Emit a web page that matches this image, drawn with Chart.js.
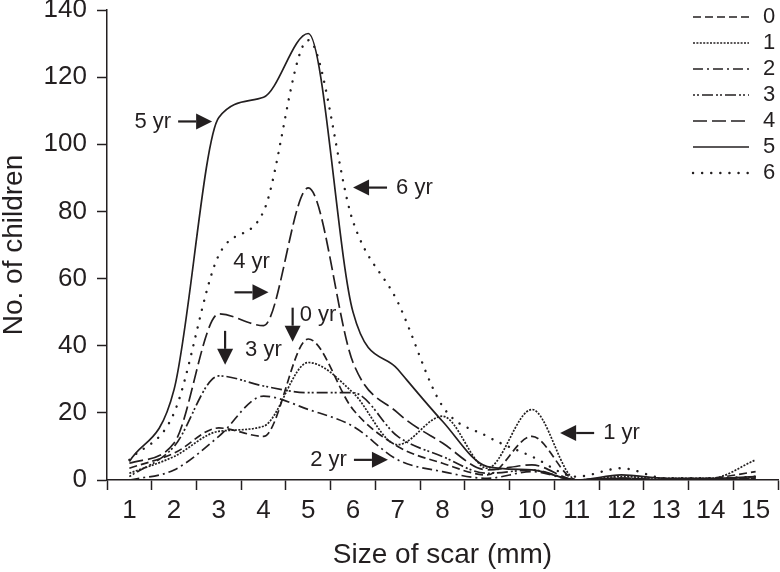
<!DOCTYPE html>
<html>
<head>
<meta charset="utf-8">
<title>Size of scar by age</title>
<script src="https://cdn.jsdelivr.net/npm/chart.js@4.4.1/dist/chart.umd.min.js"></script>
<style>
  body { margin: 0; background: #fff; }
  canvas { display: block; }
</style>
</head>
<body>
<canvas id="scarChart" width="780" height="572"></canvas>
<script>
// scar size in mm (x axis categories)
var sizes = ['1', '2', '3', '4', '5', '6', '7', '8', '9', '10', '11', '12', '13', '14', '15'];

// number of children per scar size, one list per age group
var yr0 = [3.5, 8, 15.5, 13, 42, 21, 10, 5, 1.5, 13, 0, 0.5, 0, 0.5, 2.5];
var yr1 = [2, 7, 14.5, 16, 35, 26, 10.5, 19, 3.5, 21, 0, 1, 0.5, 0.5, 6];
var yr2 = [0, 3, 13, 25, 21, 16, 6, 2.5, 0.5, 2.5, 0, 0.5, 0, 0, 0.5];
var yr3 = [1, 10, 31, 28, 26, 26, 13, 7, 2, 3, 0, 0.5, 0, 0, 1];
var yr4 = [5, 11, 49.5, 46, 87, 35, 20, 11, 3, 4.5, 0, 0.5, 0, 0, 0.5];
var yr5 = [5.5, 27, 108, 114, 133, 50, 33, 17.5, 4, 3, 0, 1.5, 0.5, 0.5, 1];
var yr6 = [6, 20, 67, 80, 131, 77, 53, 22, 13, 7, 1, 3.5, 0.5, 0.5, 1];

var yMax = 140;
var yStep = 20;

// arrow notes, anchored at (scar size, children)
var notes = [
  { text: '5 yr', x: 2.85, y: 106.8, dir: 'right' },
  { text: '6 yr', x: 6.0, y: 87.1, dir: 'left' },
  { text: '4 yr', x: 4.11, y: 55.9, dir: 'right' },
  { text: '0 yr', x: 4.65, y: 41.2, dir: 'down' },
  { text: '3 yr', x: 3.14, y: 34.3, dir: 'down' },
  { text: '2 yr', x: 6.78, y: 6, dir: 'right' },
  { text: '1 yr', x: 10.63, y: 14, dir: 'left' }
];

var ink = '#231f20';
var fontFamily = '"Liberation Sans", Arial, Helvetica, sans-serif';
Chart.defaults.font.family = fontFamily;
Chart.defaults.color = ink;

function series(label, values, dash, width, cap) {
  return {
    label: label,
    data: values,
    borderColor: ink,
    borderWidth: width || 1.7,
    borderDash: dash,
    borderCapStyle: cap || 'butt',
    pointRadius: 0,
    fill: false,
    cubicInterpolationMode: 'monotone'
  };
}

// legend drawn in the top right corner, over the plot
var legendPlugin = {
  id: 'cornerLegend',
  afterDraw: function(chart) {
    var ctx = chart.ctx;
    ctx.save();
    chart.data.datasets.forEach(function(ds, i) {
      var y = 17 + i * 26;
      ctx.strokeStyle = ink;
      ctx.lineWidth = ds.borderWidth;
      ctx.lineCap = ds.borderCapStyle;
      ctx.setLineDash(ds.borderDash || []);
      ctx.beginPath();
      ctx.moveTo(693, y);
      ctx.lineTo(749, y);
      ctx.stroke();
      ctx.setLineDash([]);
      ctx.fillStyle = ink;
      ctx.font = '22px ' + fontFamily;
      ctx.textAlign = 'left';
      ctx.textBaseline = 'middle';
      ctx.fillText(ds.label, 763, y);
    });
    ctx.restore();
  }
};

var notesPlugin = {
  id: 'arrowNotes',
  afterDatasetsDraw: function(chart) {
    var ctx = chart.ctx;
    var xs = chart.scales.x, ys = chart.scales.y;
    ctx.save();
    ctx.fillStyle = ink;
    ctx.strokeStyle = ink;
    ctx.lineWidth = 2.2;
    ctx.font = '22px ' + fontFamily;
    ctx.textBaseline = 'middle';
    notes.forEach(function(n) {
      var tx = xs.getPixelForValue(n.x - 1);
      var ty = ys.getPixelForValue(n.y);
      var ux = n.dir === 'right' ? 1 : (n.dir === 'left' ? -1 : 0);
      var uy = n.dir === 'down' ? 1 : 0;
      var len = 34, head = 16, half = 8;
      var bx = tx - ux * head, by = ty - uy * head;
      ctx.beginPath();
      ctx.moveTo(tx - ux * len, ty - uy * len);
      ctx.lineTo(bx, by);
      ctx.stroke();
      ctx.beginPath();
      ctx.moveTo(tx, ty);
      ctx.lineTo(bx - uy * half, by + ux * half);
      ctx.lineTo(bx + uy * half, by - ux * half);
      ctx.closePath();
      ctx.fill();
      if (n.text === '4 yr') {
        ctx.textAlign = 'center';
        ctx.fillText(n.text, tx - 17, ty - 30);
      } else if (n.dir === 'right') {
        ctx.textAlign = 'right';
        ctx.fillText(n.text, tx - len - 7, ty);
      } else if (n.dir === 'left') {
        ctx.textAlign = 'left';
        ctx.fillText(n.text, tx + len + 9, ty);
      } else if (n.text === '0 yr') {
        ctx.textAlign = 'left';
        ctx.fillText(n.text, tx + 7, ty - 27);
      } else {
        ctx.textAlign = 'left';
        ctx.fillText(n.text, tx + 20, ty - 15);
      }
    });
    ctx.restore();
  }
};

new Chart(document.getElementById('scarChart'), {
  type: 'line',
  data: {
    labels: sizes,
    datasets: [
      series('0', yr0, [8, 4]),
      series('1', yr1, [2, 1.4]),
      series('2', yr2, [10, 4, 2, 4]),
      series('3', yr3, [2, 2, 2, 3, 11, 3]),
      series('4', yr4, [14, 5]),
      series('5', yr5, []),
      series('6', yr6, [0.1, 9], 2.4, 'round')
    ]
  },
  options: {
    responsive: false,
    animation: false,
    layout: { padding: { top: 10, right: 2, left: 0, bottom: 0 } },
    plugins: {
      legend: { display: false },
      tooltip: { enabled: false }
    },
    scales: {
      x: {
        type: 'category',
        offset: true,
        grid: {
          offset: true,
          drawOnChartArea: false,
          tickLength: 10,
          tickColor: ink,
          tickWidth: 1.5
        },
        border: { color: ink, width: 1.5 },
        ticks: { color: ink, font: { size: 26 }, padding: 5, maxRotation: 0, autoSkip: false },
        title: {
          display: true,
          text: 'Size of scar (mm)',
          color: ink,
          font: { size: 28, lineHeight: 1.2 },
          padding: 0
        },
        afterFit: function(s) { s.height = 92; s.paddingLeft = 0; s.paddingRight = 0; }
      },
      y: {
        min: 0,
        max: yMax,
        grid: {
          drawOnChartArea: false,
          tickLength: 10,
          tickColor: ink,
          tickWidth: 1.5
        },
        border: { color: ink, width: 1.5 },
        ticks: { stepSize: yStep, color: ink, font: { size: 26 }, padding: 10 },
        title: {
          display: true,
          text: 'No. of children',
          color: ink,
          font: { size: 28, lineHeight: 1 },
          padding: 0
        },
        afterFit: function(s) { s.width = 107; s.paddingTop = 0; s.paddingBottom = 0; }
      }
    }
  },
  plugins: [notesPlugin, legendPlugin]
});
</script>
</body>
</html>
